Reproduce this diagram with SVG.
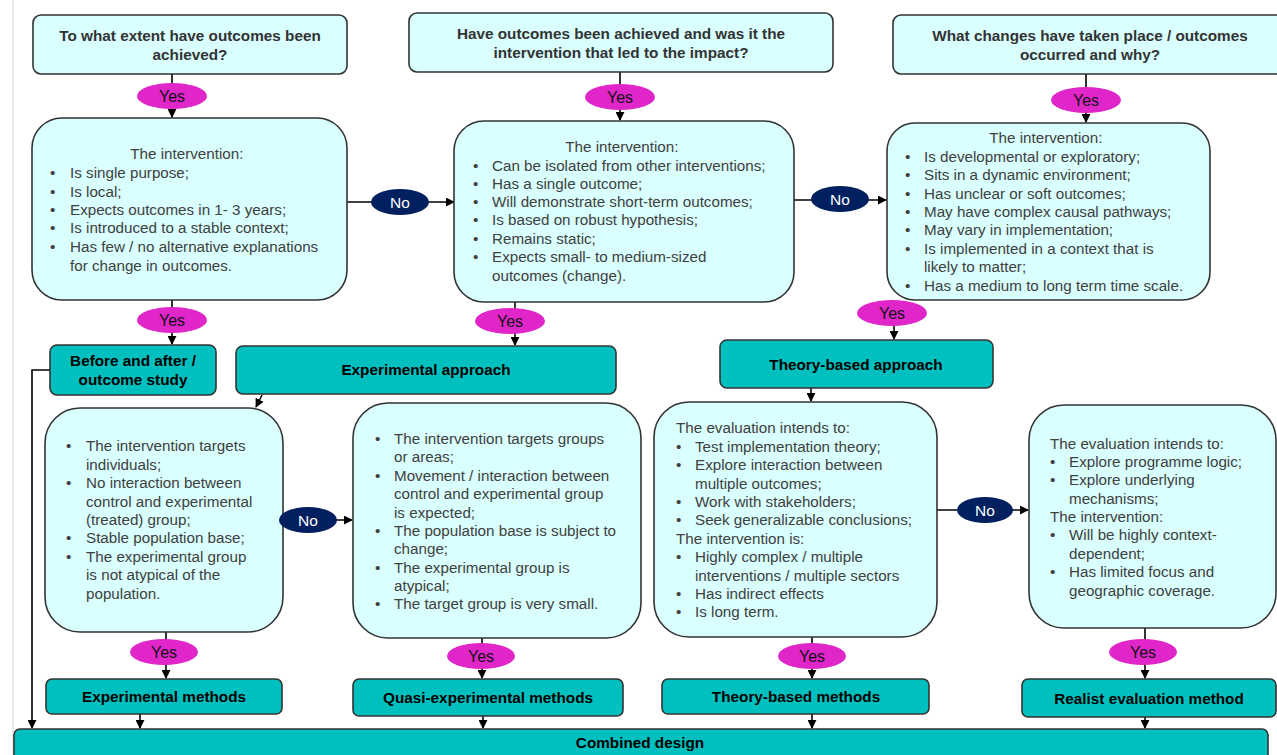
<svg xmlns="http://www.w3.org/2000/svg" width="1277" height="755" viewBox="0 0 1277 755">
<defs>
<marker id="arr" viewBox="0 0 10 10" refX="9" refY="5" markerWidth="9" markerHeight="9" markerUnits="userSpaceOnUse" orient="auto"><path d="M0,0 L10,5 L0,10 z" fill="#000"/></marker>
<style>
.q{fill:#D9FFFF;stroke:#333;stroke-width:1.6}
.b{fill:#D9FFFF;stroke:#333;stroke-width:1.6}
.t{fill:#00BFBF;stroke:#333;stroke-width:1.6}
.y{fill:#E026C8}
.n{fill:#002060}
.qt{font-family:"Liberation Sans",Arial,sans-serif;font-weight:bold;font-size:15.3px;fill:#333;text-anchor:middle}
.tt{font-family:"Liberation Sans",Arial,sans-serif;font-weight:bold;font-size:15.3px;fill:#000;text-anchor:middle}
.bt{font-family:"Liberation Sans",Arial,sans-serif;font-size:15.2px;fill:#404040}
.c{text-anchor:middle}
.yl{font-family:"Liberation Sans",Arial,sans-serif;font-size:16px;fill:#111;text-anchor:middle}
.nl{font-family:"Liberation Sans",Arial,sans-serif;font-size:15.5px;fill:#fff;text-anchor:middle}
.ln{fill:none;stroke:#000;stroke-width:1.6}
</style>
</defs>
<rect width="1277" height="755" fill="#fff"/>
<line x1="13" y1="0" x2="13" y2="755" stroke="#d0d0d0" stroke-width="1"/>

<g id="connectors">
<path class="ln" d="M172,74 V117" marker-end="url(#arr)"/>
<path class="ln" d="M620,72 V120" marker-end="url(#arr)"/>
<path class="ln" d="M1086,74 V122" marker-end="url(#arr)"/>
<path class="ln" d="M347,202 H454" marker-end="url(#arr)"/>
<path class="ln" d="M794,200 H886" marker-end="url(#arr)"/>
<path class="ln" d="M172,300 V344" marker-end="url(#arr)"/>
<path class="ln" d="M515,302 V345" marker-end="url(#arr)"/>
<path class="ln" d="M894,300 V339" marker-end="url(#arr)"/>
<path class="ln" d="M50,370 H32 V728" marker-end="url(#arr)"/>
<path class="ln" d="M262,395 L256,407" marker-end="url(#arr)"/>
<path class="ln" d="M811,388 V401" marker-end="url(#arr)"/>
<path class="ln" d="M283,520 H352" marker-end="url(#arr)"/>
<path class="ln" d="M937,510 H1028" marker-end="url(#arr)"/>
<path class="ln" d="M166,632 V678" marker-end="url(#arr)"/>
<path class="ln" d="M482,638 V678" marker-end="url(#arr)"/>
<path class="ln" d="M812,637 V678" marker-end="url(#arr)"/>
<path class="ln" d="M1145,628 V678" marker-end="url(#arr)"/>
<path class="ln" d="M140,714 V728" marker-end="url(#arr)"/>
<path class="ln" d="M483,716 V728" marker-end="url(#arr)"/>
<path class="ln" d="M812,714 V728" marker-end="url(#arr)"/>
<path class="ln" d="M1145,717 V728" marker-end="url(#arr)"/>
</g>

<g id="q1"><rect class="q" x="33" y="15" width="314" height="59" rx="8"/>
<text class="qt"><tspan x="190" y="41">To what extent have outcomes been</tspan><tspan x="190" y="60">achieved?</tspan></text></g>
<g id="q2"><rect class="q" x="409" y="13" width="424" height="59" rx="8"/>
<text class="qt"><tspan x="621" y="39">Have outcomes been achieved and was it the</tspan><tspan x="621" y="58">intervention that led to the impact?</tspan></text></g>
<g id="q3"><rect class="q" x="893" y="15" width="394" height="59" rx="8"/>
<text class="qt"><tspan x="1090" y="41">What changes have taken place / outcomes</tspan><tspan x="1090" y="60">occurred and why?</tspan></text></g>

<g id="yes1"><ellipse class="y" cx="172" cy="96" rx="35" ry="13"/><text class="yl" x="172" y="101.5">Yes</text></g>
<g id="yes2"><ellipse class="y" cx="620" cy="97" rx="35" ry="13"/><text class="yl" x="620" y="102.5">Yes</text></g>
<g id="yes3"><ellipse class="y" cx="1086" cy="100" rx="35" ry="13"/><text class="yl" x="1086" y="105.5">Yes</text></g>

<g id="boxA"><rect class="b" x="32" y="118" width="315" height="182" rx="30"/>
<text class="bt"><tspan class="c" x="189" y="159">The intervention:</tspan>
<tspan x="50" y="178">•</tspan><tspan x="70" y="178">Is single purpose;</tspan>
<tspan x="50" y="197">•</tspan><tspan x="70" y="197">Is local;</tspan>
<tspan x="50" y="215">•</tspan><tspan x="70" y="215">Expects outcomes in 1- 3 years;</tspan>
<tspan x="50" y="233">•</tspan><tspan x="70" y="233">Is introduced to a stable context;</tspan>
<tspan x="50" y="252">•</tspan><tspan x="70" y="252">Has few / no alternative explanations</tspan>
<tspan x="70" y="271">for change in outcomes.</tspan></text></g>

<g id="no1"><ellipse class="n" cx="400" cy="202" rx="29" ry="13"/><text class="nl" x="400" y="207.5">No</text></g>

<g id="boxB"><rect class="b" x="454" y="121" width="340" height="181" rx="30"/>
<text class="bt"><tspan class="c" x="624" y="152">The intervention:</tspan>
<tspan x="473" y="171">•</tspan><tspan x="492" y="171">Can be isolated from other interventions;</tspan>
<tspan x="473" y="189">•</tspan><tspan x="492" y="189">Has a single outcome;</tspan>
<tspan x="473" y="207">•</tspan><tspan x="492" y="207">Will demonstrate short-term outcomes;</tspan>
<tspan x="473" y="225">•</tspan><tspan x="492" y="225">Is based on robust hypothesis;</tspan>
<tspan x="473" y="244">•</tspan><tspan x="492" y="244">Remains static;</tspan>
<tspan x="473" y="262">•</tspan><tspan x="492" y="262">Expects small- to medium-sized</tspan>
<tspan x="492" y="281">outcomes (change).</tspan></text></g>

<g id="no2"><ellipse class="n" cx="840" cy="199" rx="29" ry="13"/><text class="nl" x="840" y="204.5">No</text></g>

<g id="boxC"><rect class="b" x="887" y="123" width="323" height="177" rx="28"/>
<text class="bt"><tspan class="c" x="1048" y="143">The intervention:</tspan>
<tspan x="905" y="162">•</tspan><tspan x="924" y="162">Is developmental or exploratory;</tspan>
<tspan x="905" y="180">•</tspan><tspan x="924" y="180">Sits in a dynamic environment;</tspan>
<tspan x="905" y="199">•</tspan><tspan x="924" y="199">Has unclear or soft outcomes;</tspan>
<tspan x="905" y="217">•</tspan><tspan x="924" y="217">May have complex causal pathways;</tspan>
<tspan x="905" y="235">•</tspan><tspan x="924" y="235">May vary in implementation;</tspan>
<tspan x="905" y="254">•</tspan><tspan x="924" y="254">Is implemented in a context that is</tspan>
<tspan x="924" y="272">likely to matter;</tspan>
<tspan x="905" y="291">•</tspan><tspan x="924" y="291">Has a medium to long term time scale.</tspan></text></g>

<g id="yes4"><ellipse class="y" cx="172" cy="320" rx="35" ry="13"/><text class="yl" x="172" y="325.5">Yes</text></g>
<g id="yes5"><ellipse class="y" cx="510" cy="321" rx="35" ry="13"/><text class="yl" x="510" y="326.5">Yes</text></g>
<g id="yes6"><ellipse class="y" cx="892" cy="313" rx="35" ry="13"/><text class="yl" x="892" y="318.5">Yes</text></g>

<g id="beforeAfter"><rect class="t" x="50" y="345" width="166" height="50" rx="7"/>
<text class="tt"><tspan x="133" y="366">Before and after /</tspan><tspan x="133" y="385">outcome study</tspan></text></g>
<g id="expApproach"><rect class="t" x="236" y="346" width="380" height="48" rx="7"/>
<text class="tt" x="426" y="375">Experimental approach</text></g>
<g id="theoryApproach"><rect class="t" x="720" y="340" width="273" height="48" rx="7"/>
<text class="tt" x="856" y="370">Theory-based approach</text></g>

<g id="boxD"><rect class="b" x="45" y="408" width="238" height="224" rx="35"/>
<text class="bt">
<tspan x="66" y="451">•</tspan><tspan x="86" y="451">The intervention targets</tspan>
<tspan x="86" y="470">individuals;</tspan>
<tspan x="66" y="488">•</tspan><tspan x="86" y="488">No interaction between</tspan>
<tspan x="86" y="507">control and experimental</tspan>
<tspan x="86" y="525">(treated) group;</tspan>
<tspan x="66" y="543">•</tspan><tspan x="86" y="543">Stable population base;</tspan>
<tspan x="66" y="562">•</tspan><tspan x="86" y="562">The experimental group</tspan>
<tspan x="86" y="580">is not atypical of the</tspan>
<tspan x="86" y="599">population.</tspan></text></g>

<g id="no3"><ellipse class="n" cx="308" cy="520" rx="29" ry="13"/><text class="nl" x="308" y="525.5">No</text></g>

<g id="boxE"><rect class="b" x="353" y="403" width="288" height="235" rx="35"/>
<text class="bt">
<tspan x="375" y="444">•</tspan><tspan x="394" y="444">The intervention targets groups</tspan>
<tspan x="394" y="462">or areas;</tspan>
<tspan x="375" y="481">•</tspan><tspan x="394" y="481">Movement / interaction between</tspan>
<tspan x="394" y="499">control and experimental group</tspan>
<tspan x="394" y="518">is expected;</tspan>
<tspan x="375" y="536">•</tspan><tspan x="394" y="536">The population base is subject to</tspan>
<tspan x="394" y="554">change;</tspan>
<tspan x="375" y="573">•</tspan><tspan x="394" y="573">The experimental group is</tspan>
<tspan x="394" y="591">atypical;</tspan>
<tspan x="375" y="609">•</tspan><tspan x="394" y="609">The target group is very small.</tspan></text></g>

<g id="boxF"><rect class="b" x="654" y="402" width="283" height="235" rx="35"/>
<text class="bt">
<tspan x="676" y="433">The evaluation intends to:</tspan>
<tspan x="676" y="452">•</tspan><tspan x="695" y="452">Test implementation theory;</tspan>
<tspan x="676" y="470">•</tspan><tspan x="695" y="470">Explore interaction between</tspan>
<tspan x="695" y="489">multiple outcomes;</tspan>
<tspan x="676" y="507">•</tspan><tspan x="695" y="507">Work with stakeholders;</tspan>
<tspan x="676" y="525">•</tspan><tspan x="695" y="525">Seek generalizable conclusions;</tspan>
<tspan x="676" y="544">The intervention is:</tspan>
<tspan x="676" y="562">•</tspan><tspan x="695" y="562">Highly complex / multiple</tspan>
<tspan x="695" y="581">interventions / multiple sectors</tspan>
<tspan x="676" y="599">•</tspan><tspan x="695" y="599">Has indirect effects</tspan>
<tspan x="676" y="617">•</tspan><tspan x="695" y="617">Is long term.</tspan></text></g>

<g id="no4"><ellipse class="n" cx="985" cy="510" rx="28" ry="13"/><text class="nl" x="985" y="515.5">No</text></g>

<g id="boxG"><rect class="b" x="1029" y="405" width="247" height="223" rx="35"/>
<text class="bt">
<tspan x="1050" y="449">The evaluation intends to:</tspan>
<tspan x="1050" y="467">•</tspan><tspan x="1069" y="467">Explore programme logic;</tspan>
<tspan x="1050" y="485">•</tspan><tspan x="1069" y="485">Explore underlying</tspan>
<tspan x="1069" y="504">mechanisms;</tspan>
<tspan x="1050" y="522">The intervention:</tspan>
<tspan x="1050" y="540">•</tspan><tspan x="1069" y="540">Will be highly context-</tspan>
<tspan x="1069" y="559">dependent;</tspan>
<tspan x="1050" y="577">•</tspan><tspan x="1069" y="577">Has limited focus and</tspan>
<tspan x="1069" y="596">geographic coverage.</tspan></text></g>

<g id="yes7"><ellipse class="y" cx="164" cy="652" rx="34" ry="13"/><text class="yl" x="164" y="657.5">Yes</text></g>
<g id="yes8"><ellipse class="y" cx="481" cy="656" rx="34" ry="13"/><text class="yl" x="481" y="661.5">Yes</text></g>
<g id="yes9"><ellipse class="y" cx="812" cy="656" rx="34" ry="13"/><text class="yl" x="812" y="661.5">Yes</text></g>
<g id="yes10"><ellipse class="y" cx="1143" cy="652" rx="34" ry="13"/><text class="yl" x="1143" y="657.5">Yes</text></g>

<g id="expMethods"><rect class="t" x="46" y="679" width="236" height="35" rx="6"/>
<text class="tt" x="164" y="702">Experimental methods</text></g>
<g id="quasiMethods"><rect class="t" x="353" y="679" width="270" height="37" rx="6"/>
<text class="tt" x="488" y="703">Quasi-experimental methods</text></g>
<g id="theoryMethods"><rect class="t" x="662" y="679" width="267" height="35" rx="6"/>
<text class="tt" x="796" y="702">Theory-based methods</text></g>
<g id="realistMethod"><rect class="t" x="1022" y="679" width="254" height="38" rx="6"/>
<text class="tt" x="1149" y="704">Realist evaluation method</text></g>

<g id="combined"><rect class="t" x="14" y="729" width="1254" height="40" rx="6"/>
<text class="tt" x="640" y="748">Combined design</text></g>
</svg>
